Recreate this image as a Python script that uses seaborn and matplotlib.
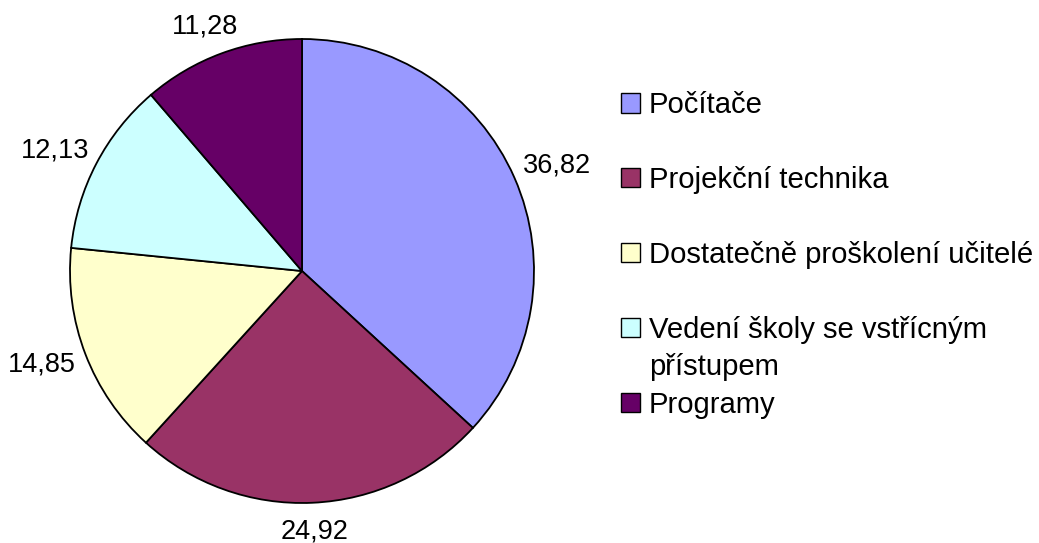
import matplotlib
matplotlib.use("Agg")
import numpy as np
import seaborn as sns
import matplotlib.pyplot as plt
from matplotlib.patches import Rectangle

# data
categories = ["Počítače", "Projekční technika", "Dostatečně proškolení učitelé",
              "Vedení školy se vstřícným\npřístupem", "Programy"]
values = [36.82, 24.92, 14.85, 12.13, 11.28]
value_labels = ["36,82", "24,92", "14,85", "12,13", "11,28"]
colors = ["#9999FF", "#993366", "#FFFFCC", "#CCFFFF", "#660066"]

sns.set_theme(style="white")
plt.rcParams["font.family"] = ["Liberation Sans", "DejaVu Sans"]

W, H = 1039, 543
fig = plt.figure(figsize=(W / 100, H / 100), dpi=100)
fig.patch.set_facecolor("white")

# pie placed in pixel terms: centre and radius
cx, cy, R = 302, 271, 232
ax = fig.add_axes([(cx - R) / W, (H - cy - R) / H, 2 * R / W, 2 * R / H])
wedges, _ = ax.pie(values, colors=colors, startangle=90, counterclock=False,
                   wedgeprops=dict(edgecolor="black", linewidth=1.3))
ax.set_xlim(-1, 1)
ax.set_ylim(-1, 1)

# value labels outside the wedges
for w, lab in zip(wedges, value_labels):
    ang = np.deg2rad((w.theta1 + w.theta2) / 2)
    ax.text(1.2 * np.cos(ang), 1.125 * np.sin(ang), lab,
            ha="center", va="center", fontsize=19.5, color="black")

# legend, entries evenly spaced by first line
row0, step, line_gap = 103, 74.8, 37
for i, (lab, col) in enumerate(zip(categories, colors)):
    yc = row0 + step * i
    fig.patches.append(Rectangle((621 / W, (H - yc - 9.5) / H), 19 / W, 19 / H,
                                 transform=fig.transFigure, figure=fig,
                                 facecolor=col, edgecolor="black", linewidth=1.0))
    for j, line in enumerate(lab.split("\n")):
        fig.text(649 / W, (H - (yc + 10.4 + j * line_gap)) / H, line,
                 ha="left", va="baseline", fontsize=21.1, color="black")

fig.savefig("out.png", dpi=100)
